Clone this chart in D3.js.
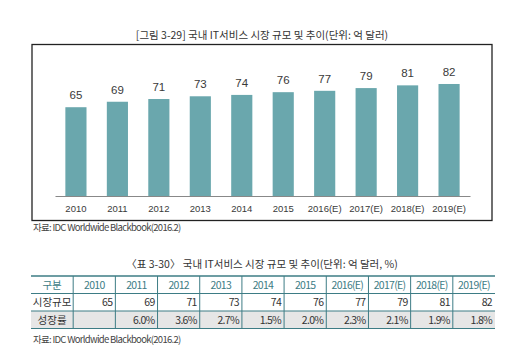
<!DOCTYPE html>
<html>
<head>
<meta charset="utf-8">
<script src="https://cdn.jsdelivr.net/npm/d3@7"></script>
<style>
  body { margin: 0; background: #fff; }
  svg { display: block; font-family: 'Noto Sans CJK KR', 'Liberation Sans', sans-serif; }
  .num { font-family: 'Liberation Sans', Arial, sans-serif; }
</style>
</head>
<body>
<div id="chart"></div>
<script>
const years = ['2010', '2011', '2012', '2013', '2014', '2015', '2016(E)', '2017(E)', '2018(E)', '2019(E)']
const marketSize = [65, 69, 71, 73, 74, 76, 77, 79, 81, 82]
const growth = ['', '6.0%', '3.6%', '2.7%', '1.5%', '2.0%', '2.3%', '2.1%', '1.9%', '1.8%']
const rowLabels = ['구분', '시장규모', '성장률']

const figTitle = '[그림 3-29] 국내 IT서비스 시장 규모 및 추이(단위: 억 달러)'
const tableTitle = '〈표 3-30〉 국내 IT서비스 시장 규모 및 추이(단위: 억 달러, %)'
const source = '자료: IDC Worldwide Blackbook(2016.2)'

const width = 517
const height = 359
const barColor = '#6aa7ad'
const teal = '#3d7c85'

const svg = d3.select('#chart').append('svg')
    .attr('width', width)
    .attr('height', height)

// figure title + frame
svg.append('text')
    .attr('x', 262).attr('y', 39)
    .attr('text-anchor', 'middle')
    .attr('font-size', 10.5)
    .attr('fill', '#333')
    .text(figTitle)

svg.append('rect')
    .attr('x', 32).attr('y', 44.5)
    .attr('width', 460).attr('height', 176)
    .attr('fill', 'none')
    .attr('stroke', '#222')
    .attr('stroke-width', 1.3)

// bar chart
const x = d3.scaleBand().domain(years).range([55, 470]).paddingInner(0.49).paddingOuter(0.25)
const y = d3.scaleLinear().domain([0, 100]).range([196, 59.4])

const g = svg.append('g')

g.selectAll('.bar')
  .data(marketSize)
  .enter().append('rect')
    .attr('class', 'bar')
    .attr('x', (d, i) => x(years[i]))
    .attr('y', d => y(d))
    .attr('width', x.bandwidth())
    .attr('height', d => y(0) - y(d))
    .attr('fill', barColor)

g.selectAll('.val')
  .data(marketSize)
  .enter().append('text')
    .attr('class', 'val num')
    .attr('x', (d, i) => x(years[i]) + x.bandwidth() / 2)
    .attr('y', d => y(d) - 8)
    .attr('text-anchor', 'middle')
    .attr('font-size', 11.5)
    .attr('fill', '#3a3a3a')
    .text(d => d)

const xAxis = d3.axisBottom(x).tickSize(0).tickPadding(9)
const ax = g.append('g')
    .attr('transform', 'translate(0,' + y(0) + ')')
    .call(xAxis)
ax.select('.domain').attr('stroke', '#888').attr('stroke-width', 1.2)
ax.selectAll('text')
    .attr('font-size', 9.5)
    .attr('fill', '#3a3a3a')
    .style('font-family', "'Liberation Sans', Arial, sans-serif")

svg.append('text')
    .attr('x', 33).attr('y', 231)
    .attr('font-size', 9.5)
    .attr('letter-spacing', -0.7)
    .attr('fill', '#444')
    .text(source)

// table
svg.append('text')
    .attr('x', 262).attr('y', 268)
    .attr('text-anchor', 'middle')
    .attr('font-size', 10.5)
    .attr('fill', '#333')
    .text(tableTitle)

const cols = ['label'].concat(years)
const cx = d3.scaleBand().domain(cols).range([31, 495])
const rowY = d3.scaleBand().domain(rowLabels).range([276, 328.5])

const table = svg.append('g')

table.append('rect')
    .attr('x', cx.range()[0]).attr('y', rowY('성장률'))
    .attr('width', cx.range()[1] - cx.range()[0]).attr('height', rowY.bandwidth())
    .attr('fill', '#e6e6e6')

rowLabels.forEach(function (r) {
  table.append('line')
      .attr('x1', cx.range()[0]).attr('x2', cx.range()[1])
      .attr('y1', rowY(r)).attr('y2', rowY(r))
      .attr('stroke', teal)
      .attr('stroke-width', r === '구분' ? 1.5 : 1)
})
table.append('line')
    .attr('x1', cx.range()[0]).attr('x2', cx.range()[1])
    .attr('y1', rowY.range()[1]).attr('y2', rowY.range()[1])
    .attr('stroke', teal).attr('stroke-width', 1)

cols.slice(1).forEach(function (c) {
  table.append('line')
      .attr('x1', cx(c)).attr('x2', cx(c))
      .attr('y1', rowY.range()[0]).attr('y2', rowY.range()[1])
      .attr('stroke', teal).attr('stroke-width', 1)
})

// row labels
rowLabels.forEach(function (r, i) {
  table.append('text')
      .attr('x', cx('label') + cx.bandwidth() / 2)
      .attr('y', rowY(r) + rowY.bandwidth() / 2 + 4)
      .attr('text-anchor', 'middle')
      .attr('font-size', 10.5)
      .attr('fill', i === 0 ? teal : '#333')
      .text(r)
})

// header years
table.selectAll('.hdr')
  .data(years)
  .enter().append('text')
    .attr('class', 'hdr')
    .attr('x', d => cx(d) + cx.bandwidth() / 2)
    .attr('y', rowY('구분') + rowY.bandwidth() / 2 + 4)
    .attr('text-anchor', 'middle')
    .attr('font-size', 10.5)
    .attr('letter-spacing', -0.7)
    .attr('fill', teal)
    .text(d => d)

table.selectAll('.size')
  .data(marketSize)
  .enter().append('text')
    .attr('x', (d, i) => cx(years[i]) + cx.bandwidth() - 3)
    .attr('y', rowY('시장규모') + rowY.bandwidth() / 2 + 4)
    .attr('text-anchor', 'end')
    .attr('font-size', 10.5)
    .attr('letter-spacing', -0.7)
    .attr('fill', '#333')
    .text(d => d)

table.selectAll('.growth')
  .data(growth)
  .enter().append('text')
    .attr('x', (d, i) => cx(years[i]) + cx.bandwidth() - 3)
    .attr('y', rowY('성장률') + rowY.bandwidth() / 2 + 4)
    .attr('text-anchor', 'end')
    .attr('font-size', 10.5)
    .attr('letter-spacing', -0.7)
    .attr('fill', '#333')
    .text(d => d)

svg.append('text')
    .attr('x', 33).attr('y', 343)
    .attr('font-size', 9.5)
    .attr('letter-spacing', -0.7)
    .attr('fill', '#444')
    .text(source)
</script>
</body>
</html>
